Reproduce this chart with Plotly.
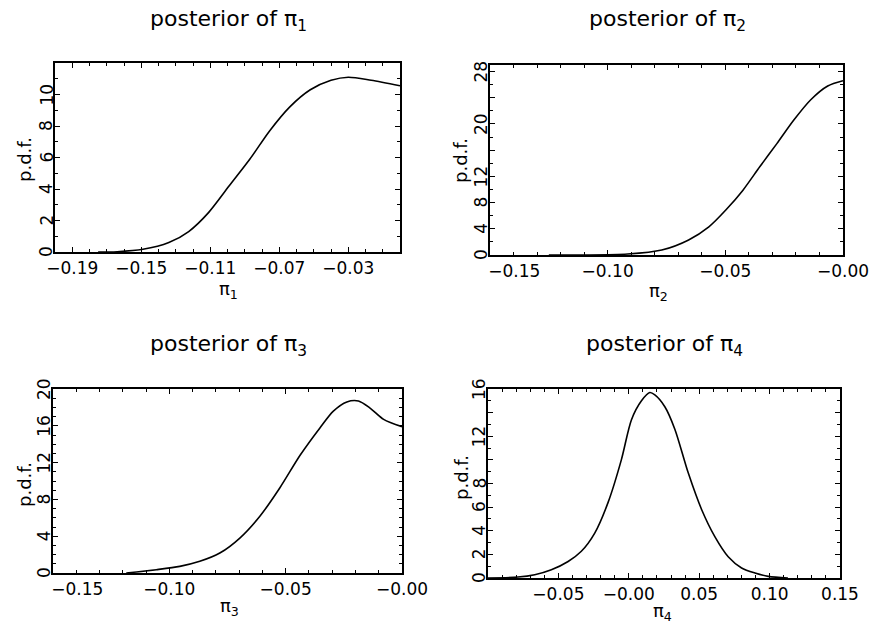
import plotly.graph_objects as go

# ---- data ----
x1 = [-0.175, -0.164, -0.149, -0.134, -0.1225, -0.111, -0.099, -0.087, -0.0755, -0.064, -0.052, -0.040, -0.030, -0.0167, 0.0]
y1 = [0, 0.02, 0.17, 0.6, 1.3, 2.5, 4.2, 5.9, 7.7, 9.2, 10.3, 10.9, 11.1, 10.9, 10.55]

x2 = [-0.125, -0.110, -0.0915, -0.077, -0.0656, -0.057, -0.0497, -0.0425, -0.0353, -0.0281, -0.0209, -0.0137, -0.0065, 0.0]
y2 = [0, 0, 0.15, 0.76, 2.3, 4.3, 6.9, 9.9, 13.5, 17.0, 20.6, 23.7, 25.8, 26.6]

x3 = [-0.1185, -0.1056, -0.0955, -0.0869, -0.0783, -0.0697, -0.061, -0.0524, -0.0438, -0.0352, -0.0295, -0.0237, -0.0187, -0.0136, -0.0079, 0.0]
y3 = [0, 0.36, 0.72, 1.27, 2.17, 3.8, 6.2, 9.3, 12.8, 15.8, 17.6, 18.6, 18.7, 17.9, 16.7, 15.9]

x4 = [-0.1036, -0.0787, -0.0668, -0.055, -0.0431, -0.0337, -0.0242, -0.0147, -0.0053, 0.0019, 0.009, 0.0149,
      0.0185, 0.0256, 0.0327, 0.0422, 0.0517, 0.0611, 0.0706, 0.0801, 0.0896, 0.099, 0.113]
y4 = [0, 0.08, 0.28, 0.7, 1.4, 2.26, 3.8, 6.4, 10.0, 13.4, 15.0, 15.7,
      15.5, 14.5, 12.6, 8.9, 5.8, 3.5, 1.8, 0.85, 0.42, 0.14, 0]

titles = ["posterior of π<sub>1</sub>", "posterior of π<sub>2</sub>",
          "posterior of π<sub>3</sub>", "posterior of π<sub>4</sub>"]
xtitles = ["π<sub>1</sub>", "π<sub>2</sub>", "π<sub>3</sub>", "π<sub>4</sub>"]
ytitle = "p.d.f."

xticks1 = [-0.19, -0.15, -0.11, -0.07, -0.03]
xlabels1 = ["−0.19", "−0.15", "−0.11", "−0.07", "−0.03"]
xticks2 = [-0.15, -0.10, -0.05, 0.0]
xlabels2 = ["\u00a0" * 9 + "−0.15", "−0.10", "−0.05", "−0.00"]
xticks3 = [-0.15, -0.10, -0.05, 0.0]
xlabels3 = ["\u00a0" * 9 + "−0.15", "−0.10", "−0.05", "−0.00"]
xticks4 = [-0.05, 0.0, 0.05, 0.10, 0.15]
xlabels4 = ["−0.05", "−0.00", "0.05", "0.10", "0.15"]

yticks1 = [0, 2, 4, 6, 8, 10]
ylabels1 = ["0", "2", "4", "6", "8", "10"]
yticks2 = [0, 4, 8, 12, 16, 20, 24, 28]
ylabels2 = ["0", "4", "8", "12", "", "20", "", "28"]
yticks3 = [0, 4, 8, 12, 16, 20]
ylabels3 = ["0", "4", "8", "12", "16", "20"]
yticks4 = [0, 2, 4, 6, 8, 10, 12, 14, 16]
ylabels4 = ["0", "2", "4", "6", "8", "", "12", "", "16"]

xranges = [[-0.20, 0.0], [-0.15, 0.0], [-0.15, 0.0], [-0.10, 0.15]]
yranges = [[0, 12], [0, 29], [0, 20], [0, 16]]

W, H = 871, 631
boxes = [(55, 400, 63, 252), (490, 843, 65, 255), (53, 402, 389, 573), (488, 840, 389, 578)]
title_xy = [(228, 21), (667, 21), (228, 345), (664, 345)]
xtitle_xy = [(228, 290), (658, 292), (230, 607), (662, 612)]
ytitle_xy = [(24, 160), (460, 160), (24, 485), (461, 478)]
ylabel_gap = 9

FONT = "DejaVu Sans"
fig = go.Figure()

series = [(x1, y1), (x2, y2), (x3, y3), (x4, y4)]
xt = [(xticks1, xlabels1), (xticks2, xlabels2), (xticks3, xlabels3), (xticks4, xlabels4)]
yt = [(yticks1, ylabels1), (yticks2, ylabels2), (yticks3, ylabels3), (yticks4, ylabels4)]
xminor = [0.01, 0.01, 0.01, 0.01]
yminor = [1, 2, 1, 1]

layout = dict(
    width=W, height=H, margin=dict(l=0, r=0, t=0, b=0),
    paper_bgcolor="white", plot_bgcolor="white", showlegend=False,
    font=dict(family=FONT, color="black", size=17),
)

annotations = []
for i in range(4):
    n = "" if i == 0 else str(i + 1)
    x0, x1p, y0, y1p = boxes[i]
    fig.add_trace(go.Scatter(x=series[i][0], y=series[i][1], mode="lines",
                             line=dict(color="black", width=1.6, shape="spline", smoothing=0.8),
                             xaxis="x" + n, yaxis="y" + n))
    layout["xaxis" + n] = dict(
        domain=[x0 / W, x1p / W], range=xranges[i], anchor="y" + n,
        showgrid=False, zeroline=False, showline=True, linecolor="black", linewidth=2,
        mirror="ticks", ticks="inside", ticklen=5, tickwidth=1.2, tickcolor="black",
        tickvals=xt[i][0], ticktext=xt[i][1], tickfont=dict(size=17, family=FONT),
        minor=dict(dtick=xminor[i], ticks="inside", ticklen=3, tickcolor="black", tickwidth=1),
        automargin=False, fixedrange=True,
    )
    layout["yaxis" + n] = dict(
        domain=[1 - y1p / H, 1 - y0 / H], range=yranges[i], anchor="x" + n,
        showgrid=False, zeroline=False, showline=True, linecolor="black", linewidth=2,
        mirror="ticks", ticks="inside", ticklen=5, tickwidth=1.2, tickcolor="black",
        tickvals=yt[i][0], showticklabels=False,
        minor=dict(dtick=yminor[i], ticks="inside", ticklen=3, tickcolor="black", tickwidth=1),
        automargin=False, fixedrange=True,
    )
    # y tick labels (rotated, close to the axis as in the reference)
    for v, lab in zip(yt[i][0], yt[i][1]):
        if lab:
            annotations.append(dict(text=lab, x=(x0 - ylabel_gap) / W, y=v,
                                    xref="paper", yref="y" + n, showarrow=False,
                                    textangle=-90, xanchor="center", yanchor="middle",
                                    font=dict(size=17, family=FONT, color="black")))
    tx, ty = title_xy[i]
    annotations.append(dict(text=titles[i], x=tx / W, y=1 - ty / H,
                            xref="paper", yref="paper", showarrow=False,
                            xanchor="center", yanchor="middle",
                            font=dict(size=22, family=FONT, color="black")))
    ax, ay = xtitle_xy[i]
    annotations.append(dict(text=xtitles[i], x=ax / W, y=1 - ay / H,
                            xref="paper", yref="paper", showarrow=False,
                            xanchor="center", yanchor="middle",
                            font=dict(size=18, family=FONT, color="black")))
    px, py = ytitle_xy[i]
    annotations.append(dict(text=ytitle, x=px / W, y=1 - py / H, textangle=-90,
                            xref="paper", yref="paper", showarrow=False,
                            xanchor="center", yanchor="middle",
                            font=dict(size=18, family=FONT, color="black")))

layout["annotations"] = annotations
fig.update_layout(**layout)
fig.write_html("out.html")
